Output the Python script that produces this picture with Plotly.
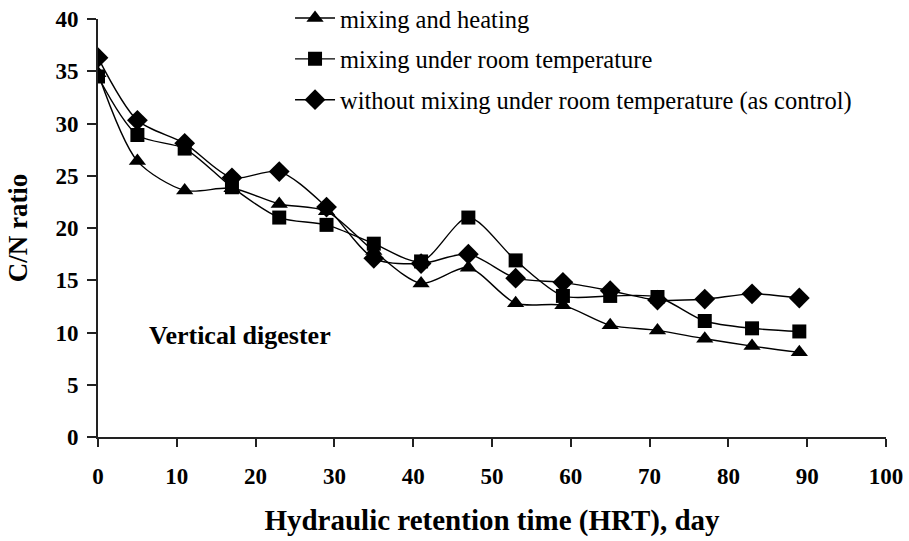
import plotly.graph_objects as go

hrt_days = [0, 5, 11, 17, 23, 29, 35, 41, 47, 53, 59, 65, 71, 77, 83, 89]
mixing_heating = [34.8, 26.4, 23.6, 23.8, 22.3, 21.6, 17.8, 14.7, 16.2, 12.8, 12.6, 10.7, 10.2, 9.4, 8.7, 8.1]
mixing_room = [34.5, 28.9, 27.6, 23.9, 21.0, 20.3, 18.5, 16.8, 21.0, 16.9, 13.5, 13.5, 13.4, 11.1, 10.4, 10.1]
no_mixing_room = [36.3, 30.3, 28.1, 24.8, 25.4, 22.0, 17.1, 16.6, 17.5, 15.2, 14.8, 14.0, 13.1, 13.2, 13.7, 13.3]

series_names = ["mixing and heating", "mixing under room temperature",
                "without mixing under room temperature (as control)"]
x_ticks = [0, 10, 20, 30, 40, 50, 60, 70, 80, 90, 100]
y_ticks = [0, 5, 10, 15, 20, 25, 30, 35, 40]

FONT = "Liberation Serif, Times New Roman, serif"

fig = go.Figure()
specs = [(mixing_heating, "triangle-up", 15), (mixing_room, "square", 14), (no_mixing_room, "diamond", 16)]
for i, (vals, sym, sz) in enumerate(specs):
    fig.add_trace(go.Scatter(
        x=hrt_days, y=vals, name=series_names[i], mode="lines+markers",
        line=dict(color="black", width=1.4, shape="spline", smoothing=0.8),
        marker=dict(symbol=sym, size=sz, color="black"),
        legendgroup=f"g{i}",
    ))

fig.update_layout(
    width=909, height=541,
    margin=dict(l=98, r=23, t=19, b=104, autoexpand=False),
    paper_bgcolor="white", plot_bgcolor="white",
    font=dict(family=FONT, color="black"),
    showlegend=True,
    legend=dict(x=0.2437, y=1.056, xanchor="left", yanchor="top",
                font=dict(family=FONT, size=24.5, color="black"),
                bgcolor="rgba(0,0,0,0)", traceorder="grouped", tracegroupgap=6,
                itemwidth=40),
    annotations=[dict(x=18.0, y=9.75, xref="x", yref="y", text="<b>Vertical digester</b>",
                      showarrow=False, xanchor="center", yanchor="middle",
                      font=dict(family=FONT, size=26, color="black"))],
)
fig.update_xaxes(
    range=[0, 100], tickvals=x_ticks, ticktext=[str(v) for v in x_ticks],
    showgrid=False, zeroline=False, showline=True, linecolor="#222", linewidth=2,
    ticks="outside", ticklen=8, tickwidth=1.5, tickcolor="#222",
    ticklabelstandoff=9,
    tickfont=dict(family=FONT, size=23, color="black", weight="bold"),
    title=dict(text="<b>Hydraulic retention time (HRT), day</b>", standoff=22,
               font=dict(family=FONT, size=29, color="black")),
)
fig.update_yaxes(
    range=[0, 40], tickvals=y_ticks, ticktext=[str(v) for v in y_ticks],
    showgrid=False, zeroline=False, showline=True, linecolor="#222", linewidth=2,
    ticks="outside", ticklen=9, tickwidth=1.5, tickcolor="#222",
    ticklabelstandoff=4,
    tickfont=dict(family=FONT, size=23, color="black", weight="bold"),
    title=dict(text="<b>C/N ratio</b>", standoff=20,
               font=dict(family=FONT, size=27, color="black")),
)
fig.write_html("out.html", config={"displayModeBar": False},
               post_script="document.body.style.margin='0';")
